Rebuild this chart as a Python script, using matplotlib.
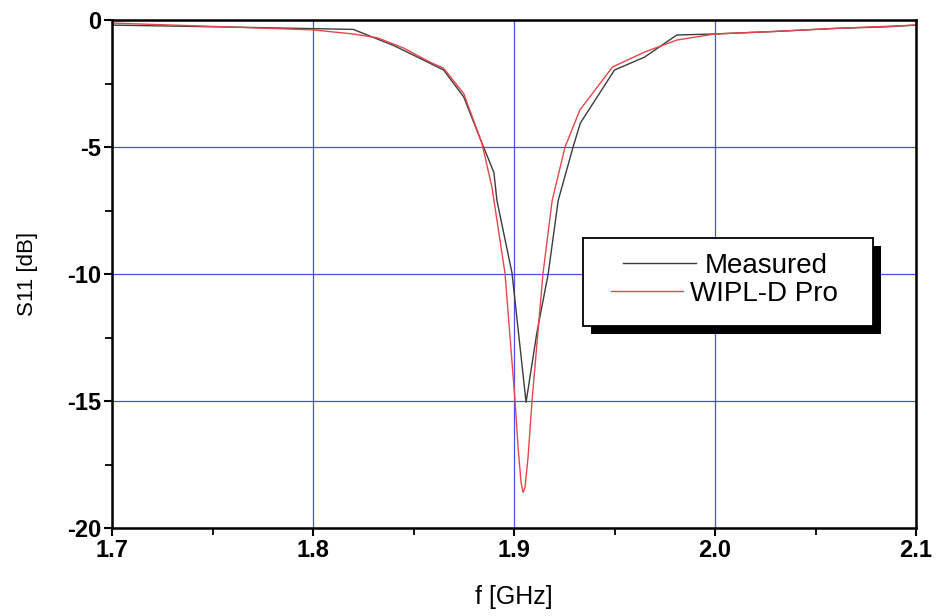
import matplotlib
matplotlib.use("Agg")
import matplotlib.pyplot as plt
from matplotlib.lines import Line2D
from matplotlib.patches import Rectangle
from matplotlib.ticker import FormatStrFormatter, MultipleLocator

plt.rcParams["font.family"] = ["Liberation Sans", "DejaVu Sans"]
plt.rcParams["axes.unicode_minus"] = False

# Measured S11 (piecewise)
f_meas = [1.70, 1.76, 1.82, 1.84, 1.853, 1.865, 1.875, 1.884, 1.890, 1.8915,
          1.899, 1.906, 1.9114, 1.917, 1.922, 1.9294, 1.933, 1.950, 1.965,
          1.981, 2.000, 2.030, 2.060, 2.085, 2.100]
s_meas = [-0.20, -0.28, -0.37, -1.0, -1.5, -1.97, -3.03, -4.84, -6.0, -7.1,
          -9.96, -15.05, -12.3, -10.0, -7.1, -5.0, -4.06, -1.97, -1.46,
          -0.59, -0.55, -0.45, -0.33, -0.27, -0.20]

# WIPL-D Pro simulation
f_sim = [1.70, 1.76, 1.80, 1.82, 1.832, 1.845, 1.858, 1.865, 1.875, 1.884,
         1.889, 1.8955, 1.9005, 1.902, 1.9035, 1.9045, 1.9055, 1.907, 1.909,
         1.9144, 1.919, 1.9254, 1.9328, 1.949, 1.965, 1.981, 2.000, 2.030,
         2.060, 2.085, 2.100]
s_sim = [-0.12, -0.28, -0.39, -0.55, -0.70, -1.1, -1.65, -1.9, -2.9, -4.84,
         -6.57, -9.96, -14.96, -16.8, -18.2, -18.6, -18.4, -17.2, -14.96,
         -10.0, -7.1, -5.0, -3.54, -1.85, -1.26, -0.79, -0.55, -0.45,
         -0.33, -0.25, -0.20]

labels = ["Measured", "WIPL-D Pro"]
colors = ["#3c3c3c", "#e8454a"]

fig = plt.figure(figsize=(9.38, 6.16), dpi=100)
ax = fig.add_axes([112 / 938, 1 - 528 / 616, 804 / 938, 508 / 616])

ax.plot(f_meas, s_meas, color=colors[0], lw=1.0)
ax.plot(f_sim, s_sim, color=colors[1], lw=1.0)

ax.set_xlim(1.7, 2.1)
ax.set_ylim(-20, 0)
ax.xaxis.set_major_locator(MultipleLocator(0.1))
ax.xaxis.set_minor_locator(MultipleLocator(0.05))
ax.yaxis.set_major_locator(MultipleLocator(5))
ax.yaxis.set_minor_locator(MultipleLocator(2.5))
ax.xaxis.set_major_formatter(FormatStrFormatter("%.1f"))
ax.grid(which="major", color="#4a4aff", lw=0.9)
ax.set_axisbelow(True)
for sp in ax.spines.values():
    sp.set_linewidth(1.8)
ax.tick_params(which="major", direction="out", length=6, width=1.5,
               labelsize=17, pad=2)
ax.tick_params(which="minor", direction="out", length=5, width=1.3)
ax.tick_params(axis="x", which="both", top=False)
ax.tick_params(axis="y", which="both", right=False)
for lbl in ax.get_xticklabels() + ax.get_yticklabels():
    lbl.set_fontweight("bold")

ax.set_xlabel("f [GHz]", fontsize=18)
ax.set_ylabel("S11 [dB]", fontsize=16)
ax.xaxis.set_label_coords(0.5, -0.112)
ax.yaxis.set_label_coords(-0.092, 0.5)

# legend box with a hard drop shadow, laid out like the original
box_x0, box_x1 = 0.5858, 0.9465
box_y0, box_y1 = 0.3976, 0.5709
dx, dy = 8 / 804, 8 / 508
ax.add_patch(Rectangle((box_x0 + dx, box_y0 - dy), box_x1 - box_x0,
                       box_y1 - box_y0, transform=ax.transAxes,
                       facecolor="black", edgecolor="none", zorder=4))
ax.add_patch(Rectangle((box_x0, box_y0), box_x1 - box_x0, box_y1 - box_y0,
                       transform=ax.transAxes, facecolor="white",
                       edgecolor="black", lw=1.3, zorder=5))
rows = [(0.6355, 0.7264, 0.7376, 0.5217), (0.6206, 0.7102, 0.7189, 0.4665)]
for (lx0, lx1, tx, ty), lab, col in zip(rows, labels, colors):
    ax.add_line(Line2D([lx0, lx1], [ty, ty], color=col, lw=1.0,
                       transform=ax.transAxes, zorder=6))
    ax.text(tx, ty, lab, transform=ax.transAxes, fontsize=20,
            ha="left", va="center_baseline", zorder=6)

fig.savefig("out.png", dpi=100)
